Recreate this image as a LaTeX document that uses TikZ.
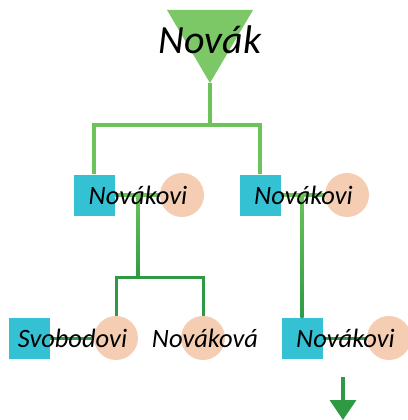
\documentclass[tikz,border=0pt]{standalone}
\usepackage{fontspec}
\setmainfont{Carlito}
\usetikzlibrary{arrows.meta,calc,backgrounds}
\definecolor{leafgreen}{HTML}{7CC867}
\definecolor{lightline}{HTML}{6CC35A}
\definecolor{darkline}{HTML}{2E9B44}
\definecolor{boycyan}{HTML}{33C1D3}
\definecolor{girlpeach}{HTML}{F4CDB3}
\begin{document}
\begin{tikzpicture}[x=1pt, y=-1pt,
    male/.style={rectangle, fill=boycyan, minimum size=41pt, inner sep=0pt},
    female/.style={circle, fill=girlpeach, minimum size=44pt, inner sep=0pt},
    famname/.style={font=\fontsize{26.5}{30}\selectfont\itshape, inner sep=0pt},
    upper/.style={draw=lightline, line width=3.5pt},
    lower/.style={draw=darkline, line width=3pt},
    descent/.style={top color=lightline, bottom color=darkline}]
  \useasboundingbox (0,0) rectangle (407,420);
  % root
  \coordinate (apex) at (210,83);
  \fill[leafgreen] (167,10) -- (253,10) -- (apex) -- cycle;
  \node[famname, font=\fontsize{40}{44}\selectfont\itshape] (root) at (210,40) {Novák};
  % first generation
  \node[male] (m1) at (94,195) {};
  \node[female] (f1) at (182,195) {};
  \node[male] (m2) at (260,195) {};
  \node[female] (f2) at (347,195) {};
  % second generation
  \node[male] (m3) at (29,338) {};
  \node[female] (f3) at (116,338) {};
  \node[female] (f4) at (203,338) {};
  \node[male] (m5) at (302,338) {};
  \node[female] (f5) at (389,338) {};
  % names
  \node[famname] (n1) at ($(m1)!0.5!(f1)$) {Novákovi};
  \node[famname] (n2) at ($(m2)!0.5!(f2)$) {Novákovi};
  \node[famname] (n3) at ($(m3)!0.5!(f3)$) {Svobodovi};
  \node[famname] (n4) at (205,338) {Nováková};
  \node[famname] (n5) at ($(m5)!0.5!(f5)$) {Novákovi};
  \begin{scope}[on background layer]
    \coordinate (fork) at (210,125);
    \draw[upper] (apex) -- (fork);
    \draw[upper] (m1.north) |- (fork) -| (m2.north);
    \draw[upper] (m1) -- (f1);
    \draw[upper] (m2) -- (f2);
    \coordinate (kids) at ($(n1)+(0,82)$);
    \shade[descent] ($(n1.center)+(-1.6,0)$) rectangle ($(kids)+(1.6,0)$);
    \draw[lower] (f3.north) |- (kids) -| (f4.north);
    \shade[descent] ($(m5.north |- n2.center)+(-1.6,0)$) rectangle ($(m5.north)+(1.6,0)$);
    \draw[lower] (m3) -- (f3);
    \draw[lower] (m5) -- (f5);
  \end{scope}
  \coordinate (more) at (343,420);
  \draw[darkline, line width=3.5pt, -{Triangle[width=26pt,length=20pt]}]
    (343,377) -- (more);
\end{tikzpicture}
\end{document}
